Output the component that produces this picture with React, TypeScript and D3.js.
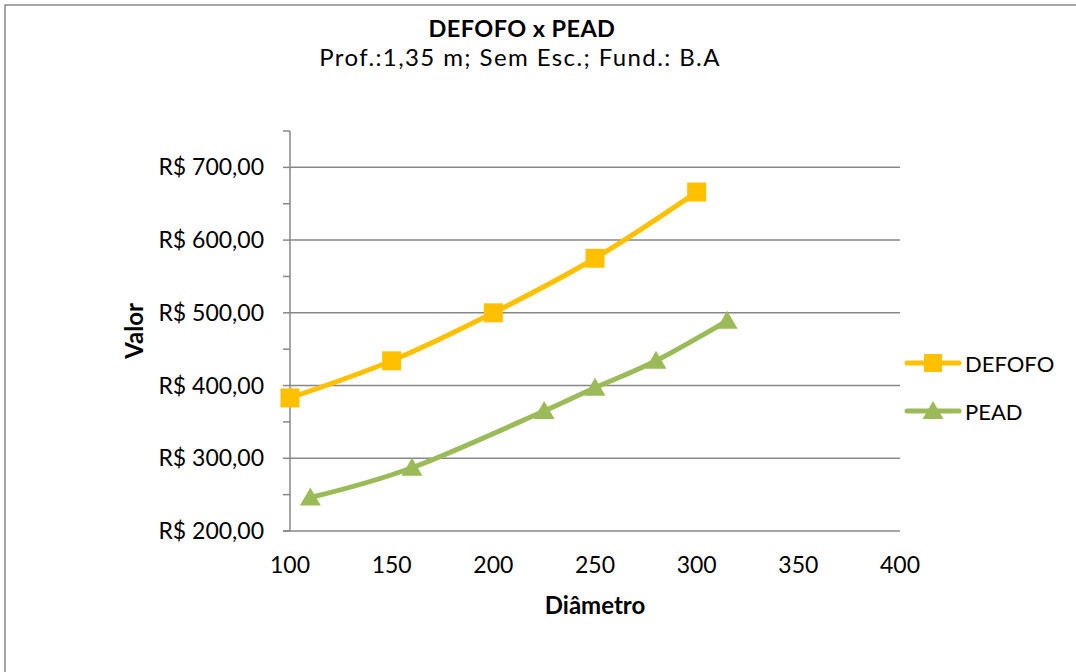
import React, { useEffect, useRef } from "react";
import * as d3 from "d3";

const defofoDiam = [100, 150, 200, 250, 300];
const defofoValue = [383, 434, 500, 575, 666];
const peadDiam = [110, 160, 225, 250, 280, 315];
const peadValue = [246, 287, 365, 397, 434, 489];
const xTicks = [100, 150, 200, 250, 300, 350, 400];
const yMajor = [200, 300, 400, 500, 600, 700];
const yMinor = [250, 350, 450, 550, 650, 750];
const seriesNames = ["DEFOFO", "PEAD"];
const seriesColors = ["#FFC000", "#9BBB59"];

const W = 1076;
const H = 672;
const FONT = "Lato, 'Open Sans', sans-serif";

export default function App() {
  const ref = useRef<SVGSVGElement>(null);

  useEffect(() => {
    const svg = d3.select(ref.current);
    svg.selectAll("*").remove();

    const plot = { left: 290, right: 900, top: 131, bottom: 531 };
    const x = d3.scaleLinear().domain([100, 400]).range([plot.left, plot.right]);
    const y = d3.scaleLinear().domain([200, 750]).range([plot.bottom, plot.top]);
    const gridColor = "#878787";

    // outer frame (only left/top edges visible in the crop)
    svg.append("rect")
      .attr("x", 5).attr("y", 5)
      .attr("width", W + 20).attr("height", H + 20)
      .attr("fill", "white")
      .attr("stroke", "#8a8a8a")
      .attr("stroke-width", 1.5);

    // titles
    svg.append("text")
      .attr("x", 522).attr("y", 37)
      .attr("text-anchor", "middle")
      .style("font", "bold 23.5px " + FONT)
      .style("letter-spacing", "0.4px")
      .text("DEFOFO x PEAD");
    svg.append("text")
      .attr("x", 520).attr("y", 66)
      .attr("text-anchor", "middle")
      .style("font", "24px " + FONT)
      .style("letter-spacing", "1.4px")
      .text("Prof.:1,35 m; Sem Esc.; Fund.: B.A");

    // horizontal gridlines
    svg.append("g")
      .selectAll("line")
      .data(yMajor.slice(1))
      .enter().append("line")
      .attr("x1", plot.left).attr("x2", plot.right)
      .attr("y1", (d) => y(d)).attr("y2", (d) => y(d))
      .attr("stroke", gridColor).attr("stroke-width", 1.5);

    // y axis with major + minor ticks
    const yAxis = svg.append("g").attr("transform", `translate(${plot.left},0)`);
    yAxis.append("line")
      .attr("x1", 0).attr("x2", 0)
      .attr("y1", plot.top).attr("y2", plot.bottom)
      .attr("stroke", gridColor).attr("stroke-width", 1.5);
    yAxis.selectAll("line.tick")
      .data(yMajor.concat(yMinor))
      .enter().append("line")
      .attr("class", "tick")
      .attr("x1", -7).attr("x2", 0)
      .attr("y1", (d) => y(d)).attr("y2", (d) => y(d))
      .attr("stroke", gridColor).attr("stroke-width", 1.5);
    yAxis.selectAll("text")
      .data(yMajor)
      .enter().append("text")
      .attr("x", -26)
      .attr("y", (d) => y(d) + 8)
      .attr("text-anchor", "end")
      .style("font", "23px " + FONT)
      .text((d) => "R$ " + d3.format(".2f")(d).replace(".", ","));

    // x axis
    svg.append("line")
      .attr("x1", plot.left - 7).attr("x2", plot.right)
      .attr("y1", plot.bottom).attr("y2", plot.bottom)
      .attr("stroke", gridColor).attr("stroke-width", 1.5);
    svg.append("g")
      .selectAll("text")
      .data(xTicks)
      .enter().append("text")
      .attr("x", (d) => x(d))
      .attr("y", plot.bottom + 42)
      .attr("text-anchor", "middle")
      .style("font", "23px " + FONT)
      .text((d) => d);

    // axis titles
    svg.append("text")
      .attr("x", (plot.left + plot.right) / 2)
      .attr("y", 614)
      .attr("text-anchor", "middle")
      .style("font", "bold 24px " + FONT)
      .text("Diâmetro");
    svg.append("text")
      .attr("transform", `translate(143,${(plot.top + plot.bottom) / 2}) rotate(-90)`)
      .attr("text-anchor", "middle")
      .style("font", "bold 24px " + FONT)
      .text("Valor");

    // series
    const line = d3.line<[number, number]>()
      .x((d) => x(d[0]))
      .y((d) => y(d[1]))
      .curve(d3.curveCardinal.tension(0));

    const defofo: [number, number][] = defofoDiam.map((d, i) => [d, defofoValue[i]]);
    const pead: [number, number][] = peadDiam.map((d, i) => [d, peadValue[i]]);

    svg.append("path")
      .datum(defofo)
      .attr("d", line)
      .attr("fill", "none")
      .attr("stroke", seriesColors[0])
      .attr("stroke-width", 5)
      .attr("stroke-linejoin", "round");
    svg.append("path")
      .datum(pead)
      .attr("d", line)
      .attr("fill", "none")
      .attr("stroke", seriesColors[1])
      .attr("stroke-width", 5)
      .attr("stroke-linejoin", "round");

    const square = d3.symbol().type(d3.symbolSquare).size(19 * 19);
    const triangle = d3.symbol().type(d3.symbolTriangle).size(190);

    svg.append("g")
      .selectAll("path")
      .data(defofo)
      .enter().append("path")
      .attr("transform", (d) => `translate(${x(d[0])},${y(d[1])})`)
      .attr("d", square)
      .attr("fill", seriesColors[0]);
    svg.append("g")
      .selectAll("path")
      .data(pead)
      .enter().append("path")
      .attr("transform", (d) => `translate(${x(d[0])},${y(d[1]) + 2})`)
      .attr("d", triangle)
      .attr("fill", seriesColors[1]);

    // legend
    const legend = svg.append("g");
    const legendY = [363, 411];
    seriesNames.forEach((name, i) => {
      const g = legend.append("g").attr("transform", `translate(0,${legendY[i]})`);
      g.append("line")
        .attr("x1", 907).attr("x2", 959)
        .attr("y1", 0).attr("y2", 0)
        .attr("stroke", seriesColors[i])
        .attr("stroke-width", 5)
        .attr("stroke-linecap", "round");
      g.append("path")
        .attr("transform", `translate(933,${i === 0 ? 0 : 2})`)
        .attr("d", i === 0 ? d3.symbol().type(d3.symbolSquare).size(18 * 18) : triangle)
        .attr("fill", seriesColors[i]);
      g.append("text")
        .attr("x", 965).attr("y", 9)
        .style("font", "22px " + FONT)
        .text(name);
    });
  }, []);

  return (
    <svg
      ref={ref}
      width={W}
      height={H}
      style={{ position: "absolute", left: 0, top: 0, background: "white" }}
    />
  );
}
